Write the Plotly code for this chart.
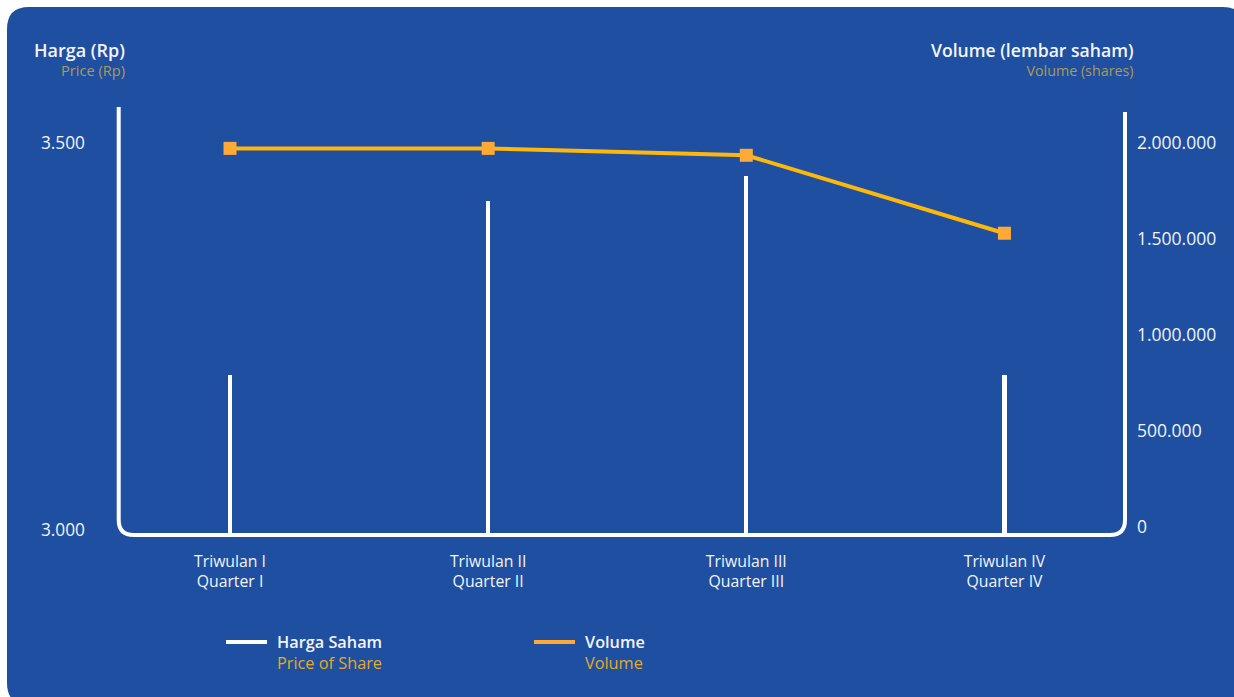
import plotly.graph_objects as go

# ---------------- data ----------------
quarters = ["Triwulan I<br>Quarter I", "Triwulan II<br>Quarter II",
            "Triwulan III<br>Quarter III", "Triwulan IV<br>Quarter IV"]
price = [3200, 3425, 3458, 3200]
volume = [1972000, 1972000, 1936000, 1530000]
price_ticks = [3000, 3500]
price_ticktext = ["3.000", "3.500"]
vol_ticks = [0, 500000, 1000000, 1500000, 2000000]
vol_ticktext = ["0", "500.000", "1.000.000", "1.500.000", "2.000.000"]

# ---------------- style ----------------
W, H = 1234, 697
L, R, T, B = 119, 109, 107, 162
PW, PH = W - L - R, H - T - B
BLUE = "#1F4FA0"
WHITE = "#F2F4FA"
GOLD = "#FFB80A"
ORANGE = "#FFAA36"
MUTED = "#AC9A58"
SUBGOLD = "#E3AA2C"
FONT = "Open Sans"


def px(x):
    return (x - L) / PW


def py(y):
    return (H - B - y) / PH


fig = go.Figure()
fig.add_trace(go.Bar(x=quarters, y=price, width=0.017, marker=dict(color="white", line=dict(width=0)),
                     name="Harga Saham", yaxis="y", hoverinfo="x+y"))
fig.add_trace(go.Scatter(x=quarters, y=volume, mode="lines+markers", name="Volume", yaxis="y2",
                         line=dict(color=GOLD, width=4),
                         marker=dict(symbol="square", size=13, color=ORANGE)))

shapes = []
# background rounded panel
x0, x1, y0, y1, r = px(7), px(1245), py(7), py(705), 22
rx, ry = r / PW, r / PH
shapes.append(dict(type="path", xref="paper", yref="paper", layer="below",
                   path=(f"M{x0+rx},{y0} L{x1-rx},{y0} Q{x1},{y0} {x1},{y0-ry} "
                         f"L{x1},{y1+ry} Q{x1},{y1} {x1-rx},{y1} L{x0+rx},{y1} "
                         f"Q{x0},{y1} {x0},{y1+ry} L{x0},{y0-ry} Q{x0},{y0} {x0+rx},{y0} Z"),
                   fillcolor=BLUE, line=dict(width=0)))
# axis frame with rounded bottom corners
fx0, fx1, fb = px(118.7), px(1125), py(535)
ftl, ftr = py(107), py(112)
cr = 15
crx, cry = cr / PW, cr / PH
shapes.append(dict(type="path", xref="paper", yref="paper", layer="above",
                   path=(f"M{fx0},{ftl} L{fx0},{fb+cry} Q{fx0},{fb} {fx0+crx},{fb} "
                         f"L{fx1-crx},{fb} Q{fx1},{fb} {fx1},{fb+cry} L{fx1},{ftr}"),
                   line=dict(color="white", width=4)))
# legend swatches
shapes.append(dict(type="line", xref="paper", yref="paper", x0=px(226), x1=px(267), y0=py(642), y1=py(642),
                   line=dict(color="white", width=4)))
shapes.append(dict(type="line", xref="paper", yref="paper", x0=px(534), x1=px(575), y0=py(642), y1=py(642),
                   line=dict(color=ORANGE, width=4)))

ann = []


def text(x, y, s, size, anchor):
    ann.append(dict(x=px(x), y=py(y), xref="paper", yref="paper", text=s, showarrow=False,
                    xanchor=anchor, yanchor="middle", align=anchor,
                    font=dict(family=FONT, size=size, color=WHITE)))


def two_line(top, bottom, sub_color, top_size=None):
    size_css = f"font-size:{top_size}px;" if top_size else ""
    return (f"<span style='{size_css}font-weight:600'>{top}</span><br>"
            f"<span style='color:{sub_color}'>{bottom}</span>")


text(127, 58.5, two_line("Harga (Rp)", "Price (Rp)", MUTED, 18), 14.6, "right")
text(1136, 58.5, two_line("Volume (lembar saham)", "Volume (shares)", MUTED, 17.6), 14.3, "right")
text(275, 652, two_line("Harga Saham", "Price of Share", SUBGOLD), 16.3, "left")
text(583, 652, two_line("Volume", "Volume", SUBGOLD), 16.3, "left")

fig.update_layout(
    width=W, height=H,
    margin=dict(l=L, r=R, t=T, b=B, pad=0),
    paper_bgcolor="white", plot_bgcolor="rgba(0,0,0,0)",
    showlegend=False,
    font=dict(family=FONT, color=WHITE),
    shapes=shapes, annotations=ann,
    xaxis=dict(type="category", range=[-0.43, 3.467], showgrid=False, zeroline=False, showline=False,
               ticks="", ticklabelstandoff=15, tickfont=dict(size=15.8, color=WHITE, weight=500),
               fixedrange=True),
    yaxis=dict(range=[2993.5, 3546.5], tickvals=price_ticks, ticktext=price_ticktext,
               showgrid=False, zeroline=False, showline=False, ticks="", ticklabelstandoff=33,
               tickfont=dict(size=17.3, color=WHITE)),
    yaxis2=dict(range=[-41667, 2187500], tickvals=vol_ticks, ticktext=vol_ticktext, overlaying="y",
                side="right", showgrid=False, zeroline=False, showline=False, ticks="",
                ticklabelstandoff=11, tickfont=dict(size=17.5, color=WHITE)),
    bargap=0,
)

fig.write_html("out.html")
